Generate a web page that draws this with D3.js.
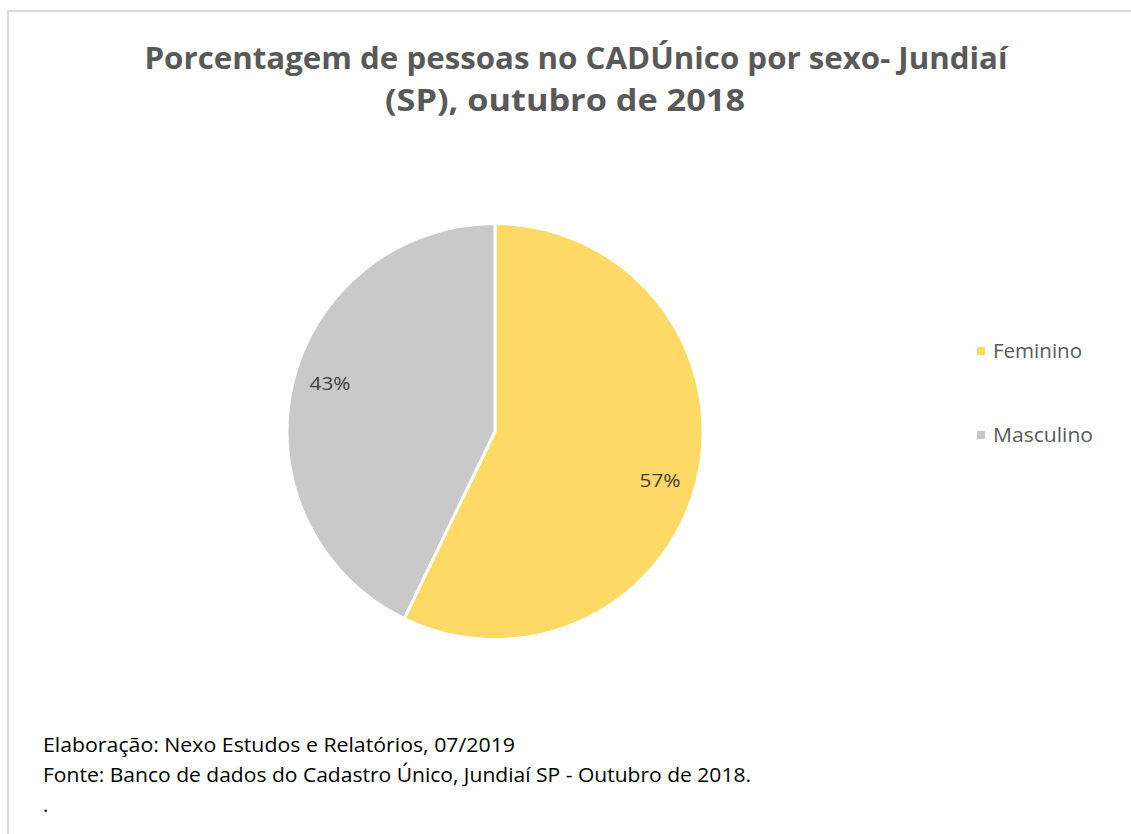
<!DOCTYPE html>
<html>
<head>
<meta charset="utf-8">
<script src="https://cdn.jsdelivr.net/npm/d3@7"></script>
<style>
  body { margin: 0; background: #fff; }
  text { font-family: "Liberation Sans Narrow", "Open Sans", "DejaVu Sans", sans-serif; }
</style>
</head>
<body>
<div id="chart"></div>
<script>
const categories = ["Feminino", "Masculino"];
const values = [57.2, 42.8];
const colors = ["#FFD966", "#C9C9C9"];
const titleLines = ["Porcentagem de pessoas no CADÚnico por sexo- Jundiaí", "(SP), outubro de 2018"];
const notes = ["Elaboração: Nexo Estudos e Relatórios, 07/2019",
               "Fonte: Banco de dados do Cadastro Único, Jundiaí SP - Outubro de 2018.",
               "."];

const width = 1131, height = 834;

const svg = d3.select('#chart')
    .append('svg')
    .attr('width', width)
    .attr('height', height);

// chart frame (only top/left visible in the crop)
svg.append('path')
    .attr('d', 'M8,' + height + 'V11H' + width)
    .attr('fill', 'none')
    .attr('stroke', '#d9d9d9')
    .attr('stroke-width', 2);

// title
const titleWidths = [863, 360];
const titleX = [576, 565];
svg.selectAll('.title')
    .data(titleLines)
    .enter()
    .append('text')
    .attr('class', 'title')
    .attr('x', (d, i) => titleX[i])
    .attr('y', (d, i) => 69 + i * 42)
    .attr('text-anchor', 'middle')
    .attr('font-size', 31)
    .attr('font-weight', 'bold')
    .attr('fill', '#595959')
    .attr('textLength', (d, i) => titleWidths[i])
    .attr('lengthAdjust', 'spacingAndGlyphs')
    .text(d => d);

/* pie ------------*/
const cx = 495, cy = 431.5, radius = 208;

const pie = d3.pie().sort(null);
const arc = d3.arc().innerRadius(0).outerRadius(radius);

const g = svg.append('g').attr('transform', `translate(${cx},${cy})`);
const arcs = pie(values);

g.selectAll('path')
    .data(arcs)
    .enter()
    .append('path')
    .attr('d', arc)
    .attr('fill', (d, i) => colors[i])
    .attr('stroke', '#fff')
    .attr('stroke-width', 3)
    .attr('stroke-linejoin', 'round');

g.selectAll('.lbl')
    .data(arcs)
    .enter()
    .append('text')
    .attr('class', 'lbl')
    .attr('transform', d => {
        // Excel nudges the labels slightly clockwise
        const c = d3.arc().innerRadius(172).outerRadius(172)
            .startAngle(d.startAngle + 0.06).endAngle(d.endAngle + 0.06).centroid();
        return `translate(${c})`;
    })
    .attr('text-anchor', 'middle')
    .attr('dy', '0.35em')
    .attr('font-size', 19)
    .attr('fill', '#404040')
    .attr('textLength', 41)
    .attr('lengthAdjust', 'spacingAndGlyphs')
    .text(d => Math.round(d.data) + '%');

/* legend ------------*/
const legend = svg.append('g').attr('transform', 'translate(977,347)');
const item = legend.selectAll('g')
    .data(categories)
    .enter()
    .append('g')
    .attr('transform', (d, i) => `translate(0,${i * 84})`);
item.append('rect')
    .attr('width', 8).attr('height', 8)
    .attr('fill', (d, i) => colors[i]);
item.append('text')
    .attr('x', 16)
    .attr('y', 11)
    .attr('font-size', 20)
    .attr('fill', '#595959')
    .attr('textLength', (d, i) => [89, 100][i])
    .attr('lengthAdjust', 'spacingAndGlyphs')
    .text(d => d);

/* notes ------------*/
const noteWidths = [472, 708, null];
svg.selectAll('.note')
    .data(notes)
    .enter()
    .append('text')
    .attr('class', 'note')
    .attr('x', 43)
    .attr('y', (d, i) => 752 + i * 30)
    .attr('font-size', 20)
    .attr('fill', '#000')
    .each(function(d, i) {
        if (noteWidths[i]) d3.select(this).attr('textLength', noteWidths[i]).attr('lengthAdjust', 'spacingAndGlyphs');
    })
    .text(d => d);
</script>
</body>
</html>
